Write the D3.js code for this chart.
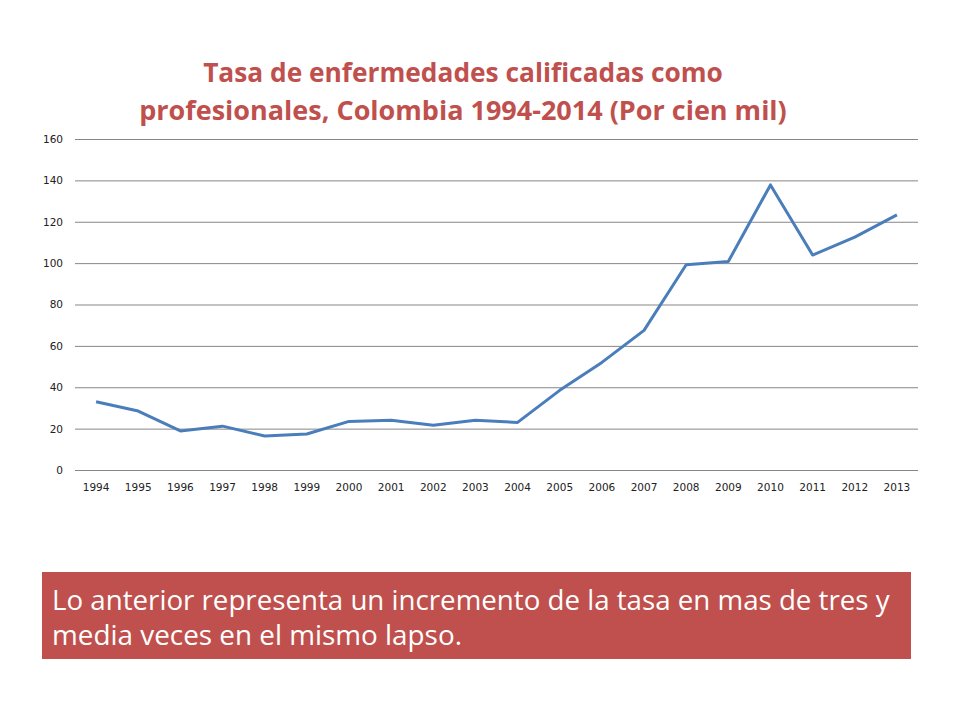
<!DOCTYPE html>
<html>
<head>
<meta charset="utf-8">
<script src="https://cdn.jsdelivr.net/npm/d3@7"></script>
<style>
    body { margin: 0; background: #fff; }
    svg { display: block; }
</style>
</head>
<body>
<div id="chart"></div>
<script>
var years = ["1994", "1995", "1996", "1997", "1998", "1999", "2000", "2001", "2002", "2003",
    "2004", "2005", "2006", "2007", "2008", "2009", "2010", "2011", "2012", "2013"];
var tasa = [33.0, 28.5, 18.9, 21.2, 16.4, 17.4, 23.5, 24.0, 21.6, 24.0,
    23.0, 38.5, 52.0, 67.5, 99.2, 100.8, 137.8, 103.9, 112.6, 123.3];
var yTicks = [0, 20, 40, 60, 80, 100, 120, 140, 160];
var titleLines = ["Tasa de enfermedades calificadas como",
    "profesionales, Colombia 1994-2014 (Por cien mil)"];
var noteLines = ["Lo anterior representa un incremento de la tasa en mas de tres y",
    "media veces en el mismo lapso."];

var W = 960, H = 720;
var margin = {top: 139, left: 75, right: 42, bottom: 250};

var svg = d3.select("#chart")
    .append("svg")
    .attr("width", W)
    .attr("height", H);

// fit a text line to a given width
function fitText(sel, width) {
    var w = sel.node().getComputedTextLength();
    var fs = parseFloat(sel.style("font-size"));
    sel.style("font-size", (fs * width / w) + "px");
}

// titulo
var titleWidths = [520, 648];
var titleY = [82, 120];
titleLines.forEach(function (t, i) {
    var txt = svg.append("text")
        .attr("x", 463)
        .attr("y", titleY[i])
        .attr("text-anchor", "middle")
        .style("font-family", "'Open Sans', sans-serif")
        .style("font-weight", "bold")
        .style("font-size", "24px")
        .style("fill", "#C0504D")
        .text(t);
    fitText(txt, titleWidths[i]);
});

var x = d3.scaleBand()
    .domain(years)
    .range([margin.left, W - margin.right]);

var y = d3.scaleLinear()
    .domain([0, 160])
    .range([470, margin.top]);

// gridlines + eje y
var yAxis = svg.append("g")
    .attr("transform", "translate(" + margin.left + ",0)")
    .call(d3.axisLeft(y).tickValues(yTicks).tickSize(-(W - margin.right - margin.left)).tickPadding(12));
yAxis.select(".domain").remove();
yAxis.selectAll(".tick line").attr("stroke", "#868686").attr("stroke-width", 1);
yAxis.selectAll(".tick text")
    .style("font-family", "'DejaVu Sans', Verdana, sans-serif")
    .style("font-size", "10.5px")
    .style("fill", "#222");

// eje x
var xAxis = svg.append("g")
    .attr("transform", "translate(0,470)")
    .call(d3.axisBottom(x).tickSize(0).tickPadding(14));
xAxis.select(".domain").remove();
xAxis.selectAll(".tick text")
    .style("font-family", "'DejaVu Sans', Verdana, sans-serif")
    .style("font-size", "10.5px")
    .style("fill", "#222");

// linea
var line = d3.line()
    .x(function (d, i) { return x(years[i]) + x.bandwidth() / 2; })
    .y(function (d) { return y(d); });

svg.append("path")
    .datum(tasa)
    .attr("d", line)
    .attr("fill", "none")
    .attr("stroke", "#4A7EBB")
    .attr("stroke-width", 3)
    .attr("stroke-linejoin", "round");

// caja de nota
svg.append("rect")
    .attr("x", 42)
    .attr("y", 572)
    .attr("width", 869)
    .attr("height", 87)
    .attr("fill", "#C0504D");

var noteWidths = [838, 410];
var noteY = [610, 645];
noteLines.forEach(function (t, i) {
    var txt = svg.append("text")
        .attr("x", 52)
        .attr("y", noteY[i])
        .style("font-family", "'Open Sans', sans-serif")
        .style("font-size", "24px")
        .style("fill", "#fff")
        .text(t);
    fitText(txt, noteWidths[i]);
});
</script>
</body>
</html>
